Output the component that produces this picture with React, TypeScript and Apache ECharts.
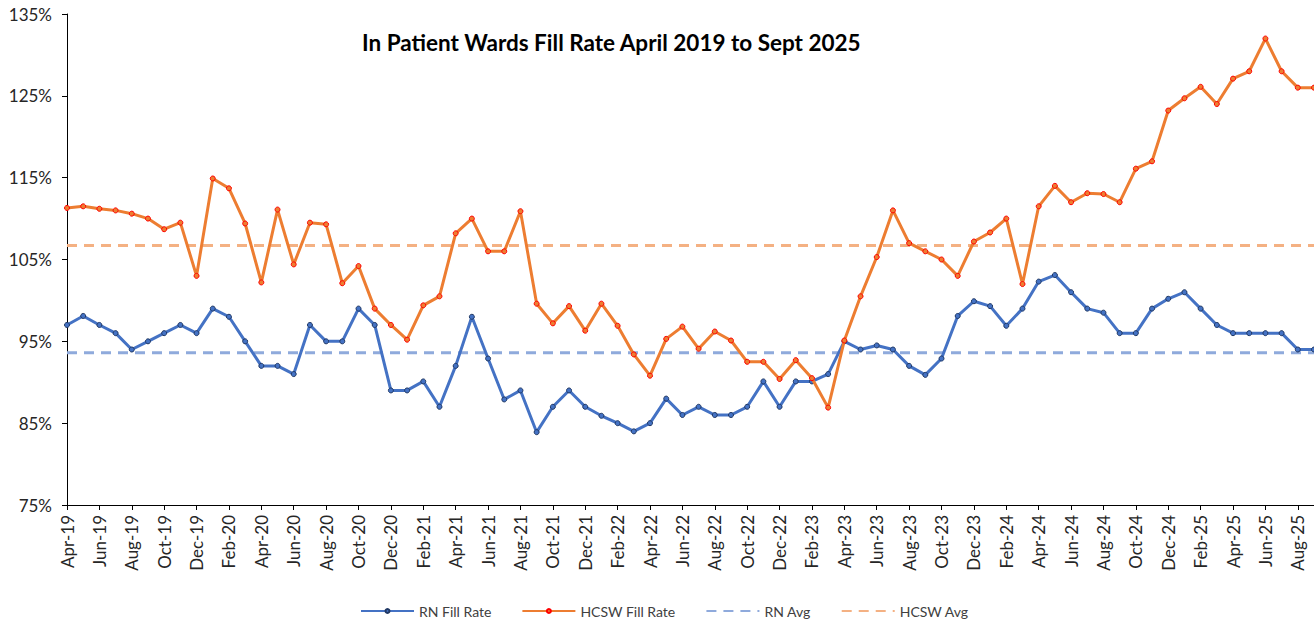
import React, { useEffect, useRef } from "react";
import * as echarts from "echarts";

const months: string[] = [
  "Apr-19","May-19","Jun-19","Jul-19","Aug-19","Sep-19","Oct-19","Nov-19","Dec-19","Jan-20",
  "Feb-20","Mar-20","Apr-20","May-20","Jun-20","Jul-20","Aug-20","Sep-20","Oct-20","Nov-20",
  "Dec-20","Jan-21","Feb-21","Mar-21","Apr-21","May-21","Jun-21","Jul-21","Aug-21","Sep-21",
  "Oct-21","Nov-21","Dec-21","Jan-22","Feb-22","Mar-22","Apr-22","May-22","Jun-22","Jul-22",
  "Aug-22","Sep-22","Oct-22","Nov-22","Dec-22","Jan-23","Feb-23","Mar-23","Apr-23","May-23",
  "Jun-23","Jul-23","Aug-23","Sep-23","Oct-23","Nov-23","Dec-23","Jan-24","Feb-24","Mar-24",
  "Apr-24","May-24","Jun-24","Jul-24","Aug-24","Sep-24","Oct-24","Nov-24","Dec-24","Jan-25",
  "Feb-25","Mar-25","Apr-25","May-25","Jun-25","Jul-25","Aug-25","Sep-25",
];

const rnFillRate: number[] = [
  97, 98.1, 97, 96, 94, 95, 96, 97, 96, 99, 98, 95, 92, 92, 91, 97, 95, 95, 99, 97,
  89, 89, 90.1, 87, 92, 98, 92.9, 87.9, 89, 83.9, 87, 89, 87, 85.9, 85, 84, 85, 88, 86, 87,
  86, 86, 87, 90.1, 87, 90.1, 90.1, 91, 95, 94, 94.5, 94, 92, 90.9, 92.9, 98.1, 99.9, 99.3, 96.9, 99,
  102.3, 103.1, 101, 99, 98.5, 96, 96, 99, 100.2, 101, 99, 97, 96, 96, 96, 96, 94, 94,
];

const hcswFillRate: number[] = [
  111.3, 111.5, 111.2, 111.0, 110.6, 110.0, 108.7, 109.5, 103.0, 114.9, 113.7, 109.4, 102.2, 111.1, 104.4, 109.5, 109.3, 102.1, 104.2, 99.0,
  97.0, 95.2, 99.4, 100.5, 108.2, 110.0, 106.0, 106.0, 110.9, 99.6, 97.2, 99.3, 96.3, 99.6, 96.9, 93.4, 90.8, 95.3, 96.8, 94.1,
  96.2, 95.1, 92.5, 92.5, 90.4, 92.7, 90.5, 86.9, 95.1, 100.5, 105.3, 111.0, 107.0, 106.0, 105.0, 103.0, 107.2, 108.3, 110.0, 102.0,
  111.5, 114.0, 112.0, 113.1, 113.0, 112.0, 116.1, 117.0, 123.2, 124.7, 126.1, 124.0, 127.1, 128.0, 132.0, 128.0, 126.0, 126.0,
];

const rnAvg = 93.6;
const hcswAvg = 106.7;

const yTicks: number[] = [75, 85, 95, 105, 115, 125, 135];

const FONT = "Lato, 'Noto Sans', sans-serif";

export default function App() {
  const ref = useRef<HTMLDivElement>(null);
  useEffect(() => {
    if (!ref.current) return;
    const chart = echarts.init(ref.current, undefined, { renderer: "svg" });
    const option: any = {
      animation: false,
      backgroundColor: "#ffffff",
      textStyle: { fontFamily: FONT },
      graphic: [
        {
          type: "text",
          left: 362,
          top: 31,
          style: {
            text: "In Patient Wards Fill Rate April 2019 to Sept 2025",
            font: `bold 22.5px ${FONT}`,
            fill: "#000000",
          },
        },
      ],
      legend: {
        left: 360,
        top: 604,
        padding: 0,
        itemWidth: 53,
        itemHeight: 5,
        itemGap: 30,
        textStyle: { fontSize: 14, color: "#404040", fontFamily: FONT },
        data: [
          { name: "RN Fill Rate" },
          { name: "HCSW Fill Rate" },
          { name: "RN Avg", itemStyle: { opacity: 0 } },
          { name: "HCSW Avg", itemStyle: { opacity: 0 } },
        ],
      },
      grid: { left: 67, right: 0, top: 14, bottom: 119, containLabel: false },
      xAxis: {
        type: "category",
        data: months,
        boundaryGap: false,
        axisLine: { lineStyle: { color: "#000000", width: 1 } },
        axisTick: { interval: 1, length: 5, lineStyle: { color: "#000000" } },
        axisLabel: {
          interval: 1,
          rotate: 90,
          margin: 10,
          fontSize: 17,
          color: "#262626",
          fontFamily: FONT,
        },
        splitLine: { show: false },
      },
      yAxis: {
        type: "value",
        min: yTicks[0],
        max: yTicks[yTicks.length - 1],
        interval: 10,
        axisLine: { show: true, lineStyle: { color: "#000000", width: 1 } },
        axisTick: { show: true, length: 5, lineStyle: { color: "#000000" } },
        axisLabel: {
          formatter: (v: number) => `${v}%`,
          fontSize: 17,
          color: "#262626",
          margin: 15,
          fontFamily: FONT,
        },
        splitLine: { show: false },
      },
      series: [
        {
          name: "RN Fill Rate",
          type: "line",
          data: rnFillRate,
          symbol: "circle",
          symbolSize: 5,
          lineStyle: { color: "#4472C4", width: 3 },
          itemStyle: { color: "#4472C4", borderColor: "#203864", borderWidth: 1 },
          z: 3,
        },
        {
          name: "HCSW Fill Rate",
          type: "line",
          data: hcswFillRate,
          symbol: "circle",
          symbolSize: 5,
          lineStyle: { color: "#ED7D31", width: 3 },
          itemStyle: { color: "#ED7D31", borderColor: "#FF0000", borderWidth: 1 },
          z: 4,
        },
        {
          name: "RN Avg",
          type: "line",
          data: months.map(() => rnAvg),
          symbol: "none",
          lineStyle: { color: "#8FAADC", width: 3, type: [10, 7] },
          itemStyle: { color: "#8FAADC" },
          z: 2,
        },
        {
          name: "HCSW Avg",
          type: "line",
          data: months.map(() => hcswAvg),
          symbol: "none",
          lineStyle: { color: "#F4B183", width: 3, type: [10, 7] },
          itemStyle: { color: "#F4B183" },
          z: 2,
        },
      ],
    };
    chart.setOption(option);
    return () => chart.dispose();
  }, []);
  return (
    <div
      ref={ref}
      style={{ position: "absolute", left: 0, top: 0, width: 1314, height: 624 }}
    />
  );
}
